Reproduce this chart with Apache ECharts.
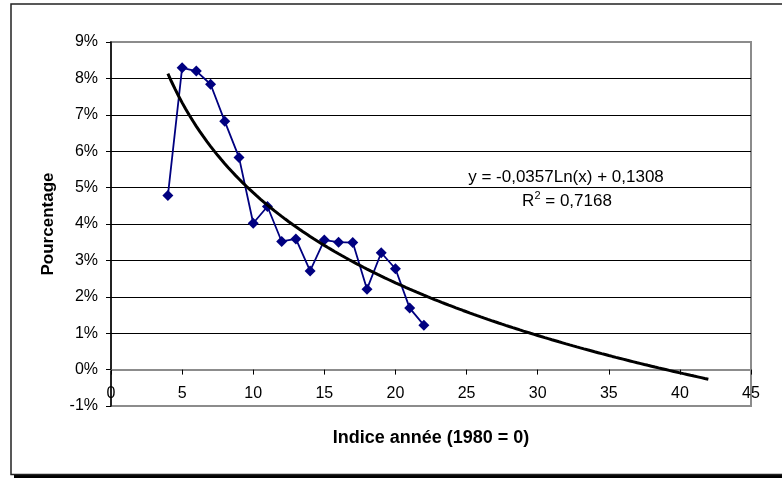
<!DOCTYPE html>
<html>
<head>
<meta charset="utf-8">
<script src="https://cdn.jsdelivr.net/npm/echarts@6/dist/echarts.min.js"></script>
<style>
html,body{margin:0;padding:0;background:#fff;}
#main{width:782px;height:479px;}
</style>
</head>
<body>
<div id="main"></div>
<script>
// ---- data ----
var yearIndex = [4, 5, 6, 7, 8, 9, 10, 11, 12, 13, 14, 15, 16, 17, 18, 19, 20, 21, 22];
var percentValues = [4.78, 8.29, 8.20, 7.84, 6.82, 5.83, 4.02, 4.48, 3.52, 3.59, 2.71, 3.56, 3.50, 3.49, 2.21, 3.21, 2.77, 1.69, 1.22];
var trendCoefA = -0.0357;   // y = a*ln(x) + b (fraction)
var trendCoefB = 0.1308;
var trendR2 = 0.7168;
var trendXStart = 4;
var trendXEnd = 42;
var xTicks = [0, 5, 10, 15, 20, 25, 30, 35, 40, 45];
var yTicks = [-1, 0, 1, 2, 3, 4, 5, 6, 7, 8, 9];
var xAxisTitle = 'Indice année (1980 = 0)';
var yAxisTitle = 'Pourcentage';

// ---- build ----
var seriesData = yearIndex.map(function (x, i) { return [x, percentValues[i]]; });
var trendData = [];
for (var x = trendXStart; x <= trendXEnd + 1e-9; x += 0.25) {
  trendData.push([x, 100 * (trendCoefA * Math.log(x) + trendCoefB)]);
}
function fr(n, d) { return n.toFixed(d).replace('.', ','); }
var eqText = 'y = ' + fr(trendCoefA, 4) + 'Ln(x) + ' + fr(trendCoefB, 4);
var r2Text = fr(trendR2, 4);

var gridLineColors = yTicks.map(function (v) {
  return (v === yTicks[0] || v === 0 || v === yTicks[yTicks.length - 1]) ? '#8c8c8c' : '#000000';
});

var GRID_TOP = 42, GRID_BOTTOM_PX = 406;
var zeroOffset = -(GRID_BOTTOM_PX - GRID_TOP) * (0 - yTicks[0]) / (yTicks[yTicks.length - 1] - yTicks[0]);

var FONT = '"Liberation Sans", Arial, sans-serif';
var chart = echarts.init(document.getElementById('main'), null, { renderer: 'canvas' });
chart.setOption({
  animation: false,
  backgroundColor: '#ffffff',
  textStyle: { fontFamily: FONT },
  grid: { left: 111, right: 31, top: GRID_TOP, bottom: 479 - GRID_BOTTOM_PX, outerBoundsMode: 'none', containLabel: false,
          show: true, borderColor: '#8c8c8c', borderWidth: 2, backgroundColor: 'transparent' },
  xAxis: {
    type: 'value',
    min: xTicks[0], max: xTicks[xTicks.length - 1], interval: 5,
    offset: zeroOffset,
    axisLine: { onZero: false, lineStyle: { color: '#8c8c8c', width: 2 } },
    axisTick: { show: true, inside: false, length: 5, lineStyle: { color: '#000', width: 1 } },
    axisLabel: { color: '#000', fontSize: 16, fontFamily: FONT, margin: 16, showMinLabel: true, showMaxLabel: true },
    splitLine: { show: false },
    name: xAxisTitle, nameLocation: 'middle', nameGap: 59,
    nameTextStyle: { color: '#000', fontSize: 18, fontWeight: 'bold', fontFamily: FONT }
  },
  yAxis: {
    type: 'value',
    min: yTicks[0], max: yTicks[yTicks.length - 1], interval: 1,
    axisLine: { show: true, onZero: false, lineStyle: { color: '#000', width: 1.5 } },
    axisTick: { show: true, inside: false, length: 5, lineStyle: { color: '#000', width: 1 } },
    axisLabel: { color: '#000', fontSize: 16, fontFamily: FONT, margin: 13, formatter: '{value}%' },
    splitLine: { show: true, lineStyle: { color: gridLineColors, width: 1.2 } },
    name: yAxisTitle, nameLocation: 'middle', nameGap: 54, nameRotate: 90,
    nameTextStyle: { color: '#000', fontSize: 17, fontWeight: 'bold', fontFamily: FONT }
  },
  series: [
    {
      type: 'line',
      data: seriesData,
      symbol: 'diamond',
      symbolSize: 11,
      showAllSymbol: true,
      lineStyle: { color: '#000080', width: 1.8 },
      itemStyle: { color: '#000080', borderWidth: 0 },
      z: 3
    },
    {
      type: 'line',
      data: trendData,
      symbol: 'none',
      smooth: false,
      lineStyle: { color: '#000', width: 3 },
      z: 4
    }
  ],
  graphic: [
    { type: 'rect', shape: { x: 14, y: 474.5, width: 800, height: 3.5 }, style: { fill: '#000' }, z: 0 },
    { type: 'rect', shape: { x: 11, y: 4, width: 800, height: 470.5 }, style: { fill: 'none', stroke: '#222', lineWidth: 1.5 }, z: 1 },
    { type: 'text', x: 566, y: 177, style: { text: eqText, font: '17px ' + FONT, fill: '#000', align: 'center', verticalAlign: 'middle' }, z: 10 },
    { type: 'text', x: 567, y: 200, style: {
        text: '{b|R}{sup|2}{b| = ' + r2Text + '}',
        font: '17px ' + FONT, fill: '#000', align: 'center', verticalAlign: 'middle',
        rich: {
          b: { fontSize: 17, fontFamily: FONT, lineHeight: 20, fill: '#000', verticalAlign: 'bottom' },
          sup: { fontSize: 11, fontFamily: FONT, lineHeight: 20, fill: '#000', verticalAlign: 'top' }
        }
      }, z: 10 }
  ]
});
</script>
</body>
</html>
